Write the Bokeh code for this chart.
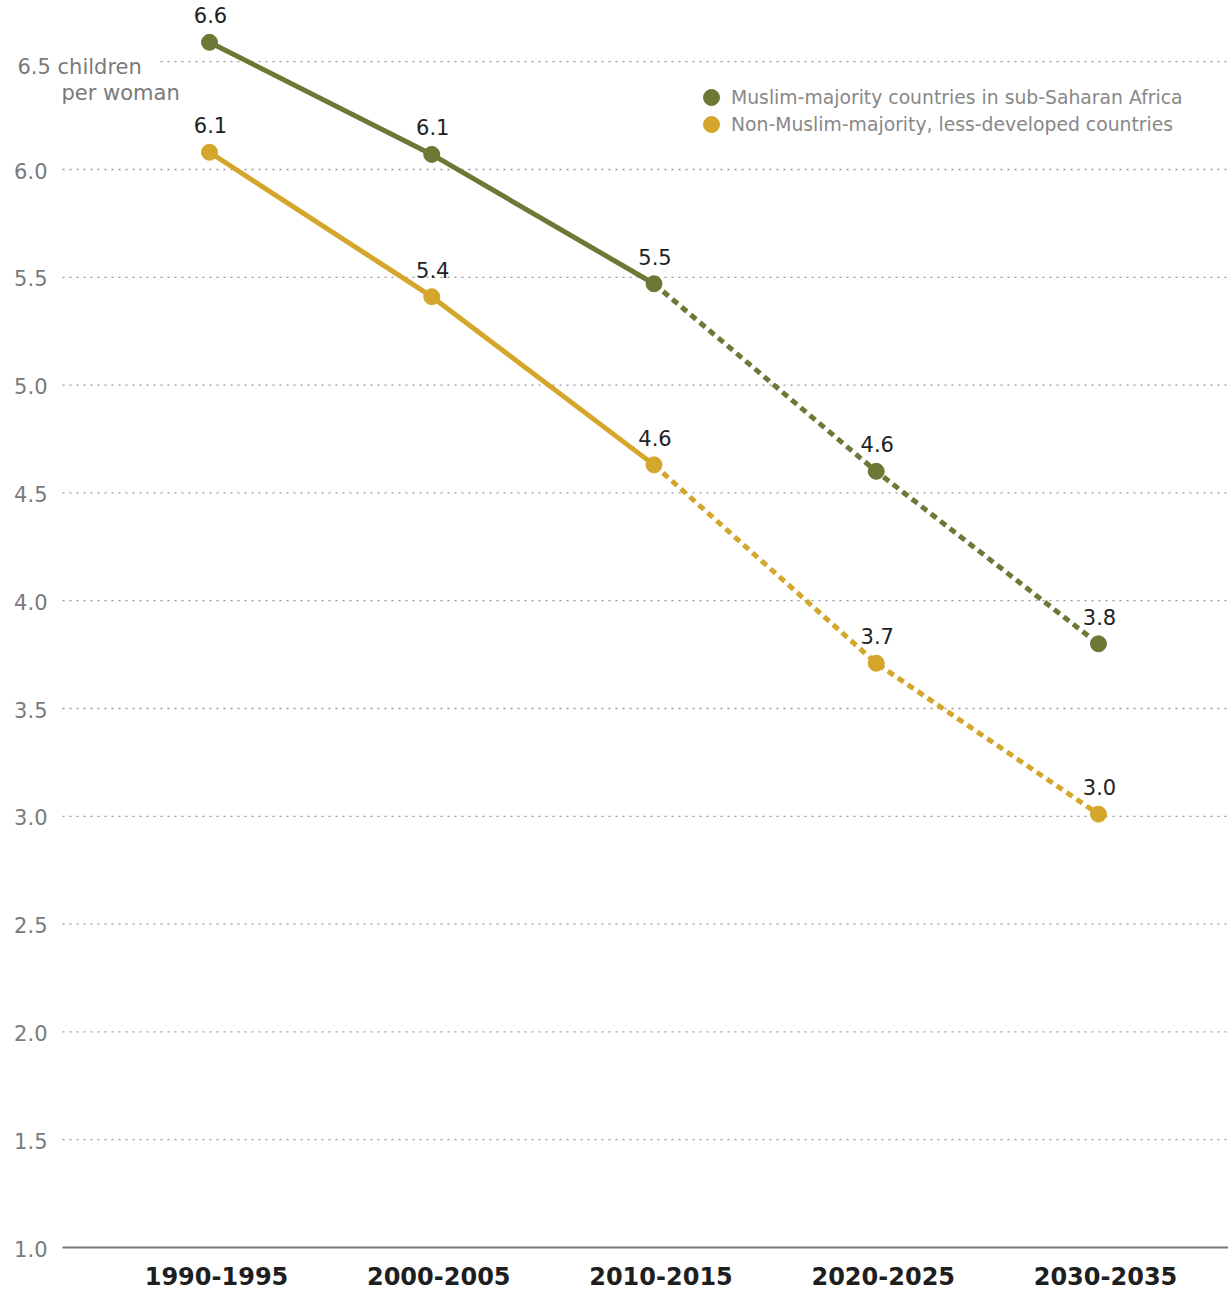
from bokeh.plotting import figure
from bokeh.models import Range1d, ColumnDataSource, Legend, LegendItem
from bokeh.core.properties import value
from bokeh.embed import file_html
from bokeh.resources import INLINE

# ---- data ----
periods = ["1990-1995", "2000-2005", "2010-2015", "2020-2025", "2030-2035"]
muslim_ssa = [6.59, 6.07, 5.47, 4.60, 3.80]
non_muslim_ldc = [6.08, 5.41, 4.63, 3.71, 3.01]
series_names = ["Muslim-majority countries in sub-Saharan Africa",
                "Non-Muslim-majority, less-developed countries"]
y_ticks = [1.0, 1.5, 2.0, 2.5, 3.0, 3.5, 4.0, 4.5, 5.0, 5.5, 6.0, 6.5]
unit_label = ["children", "per woman"]
projection_start = 2  # index of the period where the projected (dotted) part begins

# ---- layout / style ----
W, H = 1228, 1289
FONT = "DejaVu Sans"
OLIVE = "#6b7836"
GOLD = "#d4a72c"
GRAY = "#7a7a7a"
GRID = "#999999"

# pixel layout of the reference (first category at px 209, 222.25 px per category;
# value 1.0 at px 1247, 215.6 px per unit)
X_PX0, X_PX_STEP = 209.0, 222.25
Y_PX1, Y_PX_STEP = 1247.0, 215.6
def xd(px):
    return (px - X_PX0) / X_PX_STEP
def yd(py):
    return 1.0 + (Y_PX1 - py) / Y_PX_STEP

x = list(range(len(periods)))

p = figure(width=W, height=H,
           x_range=Range1d(xd(0), xd(W)), y_range=Range1d(yd(H), yd(0)),
           x_axis_location=None, y_axis_location=None,
           toolbar_location=None, output_backend="svg",
           min_border_left=0, min_border_right=0, min_border_top=0, min_border_bottom=0)
p.outline_line_color = None
p.xgrid.visible = False
p.ygrid.visible = False
p.background_fill_color = "white"
p.border_fill_color = "white"

plot_left = xd(62)
plot_right = xd(W)

# gridlines (dotted); top one starts after the unit label
grid_ticks = [t for t in y_ticks if t > y_ticks[0]]
grid_x0 = [xd(160) if t == y_ticks[-1] else plot_left for t in grid_ticks]
p.segment(x0=grid_x0, y0=grid_ticks, x1=[plot_right] * len(grid_ticks), y1=grid_ticks,
          line_color=GRID, line_dash="2 5", line_width=1.3)

# baseline axis line
p.segment(x0=[plot_left], y0=[y_ticks[0]], x1=[plot_right], y1=[y_ticks[0]],
          line_color="#777777", line_width=2)

# y tick labels
tick_src = ColumnDataSource(dict(x=[xd(0)] * (len(y_ticks) - 1), y=y_ticks[:-1],
                                 lab=[f"{t:.1f}" for t in y_ticks[:-1]]))
p.text("x", "y", text="lab", source=tick_src, text_font=value(FONT), text_font_size="21px",
       text_color=GRAY, text_align="right", text_baseline="middle", x_offset=47, y_offset=1)

# top tick label with unit
p.text(x=[xd(17)], y=[y_ticks[-1]], text=[f"{y_ticks[-1]:.1f} {unit_label[0]}"],
       text_font=value(FONT), text_font_size="21px", text_color=GRAY,
       text_align="left", text_baseline="middle", y_offset=5)
p.text(x=[xd(61)], y=[y_ticks[-1]], text=[unit_label[1]],
       text_font=value(FONT), text_font_size="21px", text_color=GRAY,
       text_align="left", text_baseline="middle", y_offset=31)

renderers = []
for vals, color in [(muslim_ssa, OLIVE), (non_muslim_ldc, GOLD)]:
    k = projection_start
    p.line(x[:k + 1], vals[:k + 1], line_color=color, line_width=5)
    p.line(x[k:], vals[k:], line_color=color, line_width=5, line_dash="7 5")
    src = ColumnDataSource(dict(x=x, y=vals, lab=[f"{v:.1f}" for v in vals]))
    r = p.scatter("x", "y", source=src, size=16, fill_color=color, line_color=color)
    renderers.append(r)
    p.text("x", "y", text="lab", source=src, text_font=value(FONT), text_font_size="21px",
           text_color="#222222", text_align="center", text_baseline="middle",
           x_offset=1, y_offset=-27)

# x category labels
xsrc = ColumnDataSource(dict(x=x, y=[y_ticks[0]] * len(x), lab=periods))
p.text("x", "y", text="lab", source=xsrc, text_font=value(FONT), text_font_size="24px",
       text_font_style="bold", text_color="#1e1e1e", text_align="center",
       text_baseline="middle", x_offset=7, y_offset=28)

# legend: one single-item legend per series so the rows sit 27px apart
for i, (name, r) in enumerate(zip(series_names, renderers)):
    lg = Legend(items=[LegendItem(label=name, renderers=[r])],
                location=(691, H - 117 - 27 * i), orientation="vertical",
                glyph_width=40, glyph_height=40, padding=0, margin=0, spacing=0,
                label_standoff=0, label_text_font=FONT, label_text_font_size="18.8px",
                label_text_color="#888888", border_line_alpha=0, background_fill_alpha=0)
    p.add_layout(lg)

open("out.html", "w").write(file_html(p, INLINE))
